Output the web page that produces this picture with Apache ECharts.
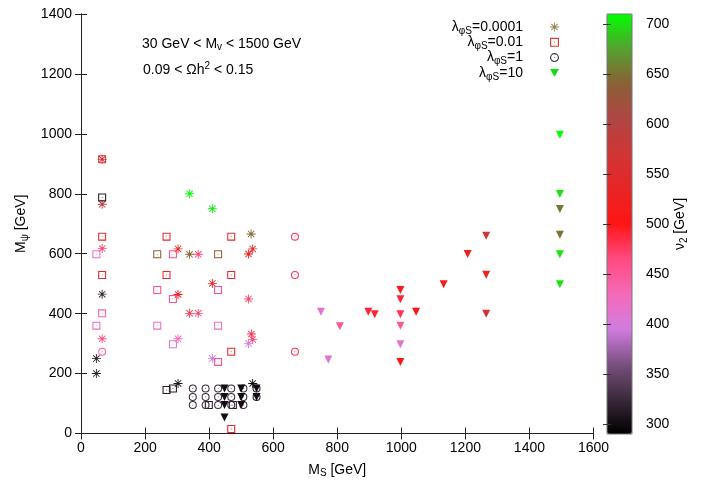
<!DOCTYPE html>
<html>
<head>
<meta charset="utf-8">
<script src="https://cdn.jsdelivr.net/npm/echarts@6/dist/echarts.min.js"></script>
<style>
html, body { margin: 0; padding: 0; background: #fff; }
#chart { width: 708px; height: 496px; }
</style>
</head>
<body>
<div id="chart"></div>
<script>
// each point: [M_S, M_psi, v2]
var lam00001 = [
    [66, 915, 560], [66, 765, 580], [66, 617, 470], [66, 465, 320], [66, 316, 460],
    [48, 250, 315], [48, 200, 320],
    [303, 616, 540], [303, 464, 510], [303, 316, 430], [303, 167, 310],
    [339, 800, 710], [339, 598, 640], [339, 401, 480],
    [366, 598, 470], [366, 401, 470],
    [410, 750, 700], [410, 501, 540], [410, 250, 400],
    [531, 666, 645], [536, 616, 540], [523, 599, 520], [523, 449, 470],
    [532, 332, 480], [536, 314, 470], [523, 300, 400], [536, 167, 300]
];
var lam001 = [
    [66, 915, 560], [66, 788, 310], [66, 657, 550], [66, 529, 540], [66, 401, 440],
    [48, 598, 420], [48, 360, 420],
    [238, 598, 640], [238, 479, 460], [238, 360, 420],
    [267, 657, 550], [267, 529, 540], [267, 145, 310],
    [287, 598, 460], [287, 449, 455], [287, 298, 400], [287, 150, 310],
    [428, 598, 630], [428, 479, 460], [428, 360, 420], [428, 239, 460],
    [469, 657, 550], [469, 529, 540], [469, 273, 520], [469, 15, 520],
    [399, 95, 310], [474, 95, 310]
];
var lam1 = [
    [66, 273, 440],
    [668, 657, 480], [668, 529, 480], [668, 273, 480],
    [349, 150, 325], [349, 122, 325], [349, 95, 325],
    [389, 150, 325], [389, 122, 325], [389, 95, 325],
    [428, 150, 325], [428, 122, 325], [428, 95, 325],
    [469, 150, 325], [469, 122, 325], [469, 95, 325],
    [507, 150, 325], [507, 122, 325], [507, 95, 325],
    [548, 150, 310], [548, 122, 310]
];
var lam10 = [
    [448, 150, 300], [448, 122, 300], [448, 95, 300], [448, 53, 300],
    [500, 150, 300], [500, 122, 300], [500, 95, 300],
    [548, 150, 300], [548, 122, 300],
    [749, 406, 410], [772, 247, 410], [808, 358, 450],
    [897, 406, 490], [917, 398, 490],
    [997, 479, 510], [997, 448, 490], [997, 398, 480], [997, 360, 450], [997, 298, 410], [997, 239, 505],
    [1046, 406, 500], [1132, 498, 510], [1207, 599, 520],
    [1265, 660, 560], [1265, 530, 530], [1265, 400, 560],
    [1495, 997, 710], [1495, 799, 700], [1495, 749, 650], [1495, 663, 650], [1495, 598, 700], [1495, 498, 700]
];
var lambdaLabels = ['0.0001', '0.01', '1', '10'];
var cbTicks = [300, 350, 400, 450, 500, 550, 600, 650, 700];

var FONT = 'Liberation Sans';
// gnuplot-like point shapes as filled paths (thin outlines, open centre with dot)
var starSym = 'path://M0,45 L100,45 L100,55 L0,55 Z M55,0 L55,100 L45,100 L45,0 Z ' +
    'M18.1,11.1 L88.9,81.9 L81.9,88.9 L11.1,18.1 Z M81.9,11.1 L88.9,18.1 L18.1,88.9 L11.1,81.9 Z';
var boxSym = 'path://M0,0 L100,0 L100,100 L0,100 Z M13,13 L13,87 L87,87 L87,13 Z M45,45 L55,45 L55,55 L45,55 Z';
var ringSym = 'path://M50,0 A50,50 0 1,1 50,100 A50,50 0 1,1 50,0 Z M50,13 A37,37 0 1,0 50,87 A37,37 0 1,0 50,13 Z ' +
    'M45,45 L55,45 L55,55 L45,55 Z';
var triSym = 'path://M0,0 L100,0 L50,87 Z';
var symbols = [starSym, boxSym, ringSym, triSym];
var legendColors = ['#9a8050', '#e03c3c', '#3a3040', '#10e010'];
var sets = [lam00001, lam001, lam1, lam10];
var sizes = [9, 8, 8, 8];

var chart = echarts.init(document.getElementById('chart'));

var series = sets.map(function (d, i) {
    return {
        name: lambdaLabels[i],
        type: 'scatter',
        xAxisIndex: 0,
        yAxisIndex: 0,
        symbol: symbols[i],
        symbolSize: sizes[i],
        itemStyle: { color: legendColors[i], opacity: 1 },
        emphasis: { disabled: true },
        data: d
    };
});

var legends = lambdaLabels.map(function (n, i) {
    return {
        data: [{ name: n, icon: symbols[i] }],
        right: 149,
        top: 20 + i * 15.3,
        orient: 'vertical',
        align: 'right',
        padding: 0,
        itemWidth: 9,
        itemHeight: 9,
        selectedMode: false,
        formatter: function (name) { return '{a|λ}{s|φS}{a|=' + name + '}{g|}'; },
        textStyle: {
            color: '#000', fontFamily: FONT, fontSize: 14,
            rich: {
                a: { fontSize: 14, fontFamily: FONT, color: '#000' },
                s: { fontSize: 10, fontFamily: FONT, color: '#000', padding: [8, 0, 0, 0] },
                g: { width: 22 }
            }
        }
    };
});

var plainNum = function (v) { return String(v); };

var axisCommon = {
    axisLine: { show: true, lineStyle: { color: '#222', width: 1 } },
    axisTick: { show: true, inside: true, length: 6, lineStyle: { color: '#222' } },
    splitLine: { show: false }
};

var option = {
    animation: false,
    backgroundColor: '#fff',
    grid: [
        { left: 81, right: 114.5, top: 14, bottom: 62.5 },
        { left: 607, width: 25, top: 14, height: 420, show: true, borderColor: '#777', borderWidth: 1, backgroundColor: 'transparent', z: 10 }
    ],
    xAxis: [
        Object.assign({}, axisCommon, {
            type: 'value', gridIndex: 0, min: 0, max: 1600, interval: 200,
            name: '{a|M}{s|S}{a| [GeV]}', nameLocation: 'middle', nameGap: 28,
            nameTextStyle: { rich: {
                a: { fontSize: 14, fontFamily: FONT, color: '#000' },
                s: { fontSize: 10, fontFamily: FONT, color: '#000', padding: [7, 0, 0, 0] }
            } },
            axisLabel: { fontSize: 14, fontFamily: FONT, color: '#000', margin: 8, formatter: plainNum }
        }),
        Object.assign({}, axisCommon, {
            type: 'value', gridIndex: 0, position: 'top', min: 0, max: 1600, interval: 200,
            axisLabel: { show: false }
        }),
        { type: 'value', gridIndex: 1, min: 0, max: 1, show: false }
    ],
    yAxis: [
        Object.assign({}, axisCommon, {
            type: 'value', gridIndex: 0, min: 0, max: 1400, interval: 200,
            name: '{a|M}{s|ψ}{a| [GeV]}', nameLocation: 'middle', nameGap: 46, nameRotate: 90,
            nameTextStyle: { rich: {
                a: { fontSize: 14, fontFamily: FONT, color: '#000' },
                s: { fontSize: 10, fontFamily: FONT, color: '#000', padding: [7, 0, 0, 0] }
            } },
            axisLabel: { fontSize: 14, fontFamily: FONT, color: '#000', margin: 9, formatter: plainNum }
        }),
        Object.assign({}, axisCommon, {
            type: 'value', gridIndex: 0, position: 'right', min: 0, max: 1400, interval: 200,
            axisLabel: { show: false }
        }),
        {
            type: 'value', gridIndex: 1, position: 'right', min: 290, max: 710,
            name: '{a|ν}{s|2}{a| [GeV]}', nameLocation: 'middle', nameGap: 40, nameRotate: 90,
            nameTextStyle: { rich: {
                a: { fontSize: 14, fontFamily: FONT, color: '#000' },
                s: { fontSize: 10, fontFamily: FONT, color: '#000', padding: [7, 0, 0, 0] }
            } },
            axisLine: { show: false },
            axisTick: { show: true, inside: true, length: 4, customValues: cbTicks, lineStyle: { color: '#333' } },
            axisLabel: { show: true, customValues: cbTicks, fontSize: 14, fontFamily: FONT, color: '#000', margin: 14 },
            splitLine: { show: false },
            z: 10
        },
        {
            type: 'value', gridIndex: 1, position: 'left', min: 290, max: 710,
            axisLine: { show: false },
            axisTick: { show: true, inside: true, length: 4, customValues: cbTicks, lineStyle: { color: '#333' } },
            axisLabel: { show: false },
            splitLine: { show: false },
            z: 10
        }
    ],
    visualMap: {
        type: 'continuous',
        min: 290, max: 710,
        dimension: 2,
        seriesIndex: [0, 1, 2, 3],
        calculable: false,
        realtime: false,
        left: 607, top: 14,
        itemWidth: 25, itemHeight: 420,
        padding: 0,
        text: null,
        showLabel: false,
        inRange: {
            color: ['#000000', '#3a2a3a', '#7a5080', '#d07ce0', '#f56ab8', '#ff4a80', '#ff1515',
                '#e82525', '#d03535', '#b04545', '#8a6035', '#55a030', '#00ff00']
        }
    },
    legend: legends,
    graphic: [
        {
            type: 'text', left: 142, top: 37,
            style: {
                text: '{a|30 GeV < M}{s|v}{a| < 1500 GeV}',
                rich: {
                    a: { fontSize: 14, fontFamily: FONT, fill: '#000' },
                    s: { fontSize: 10, fontFamily: FONT, fill: '#000', padding: [7, 0, 0, 0] }
                }
            }
        },
        {
            type: 'text', left: 143, top: 61,
            style: {
                text: '{a|0.09 < Ωh}{p|2}{a| < 0.15}',
                rich: {
                    a: { fontSize: 14, fontFamily: FONT, fill: '#000' },
                    p: { fontSize: 10, fontFamily: FONT, fill: '#000', padding: [0, 0, 8, 0] }
                }
            }
        }
    ],
    series: series
};

chart.setOption(option);
</script>
</body>
</html>
